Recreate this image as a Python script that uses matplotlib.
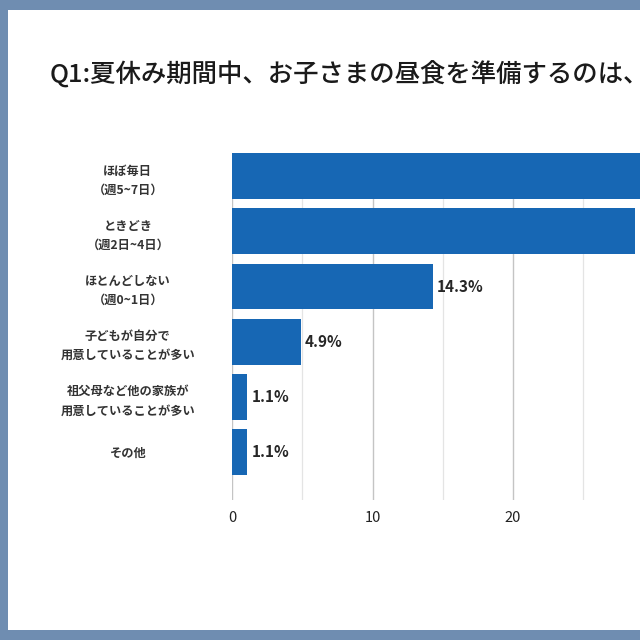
import matplotlib.pyplot as plt
from matplotlib.patches import Rectangle

plt.rcParams["font.family"] = ["Noto Sans CJK JP", "DejaVu Sans"]

TITLE = "Q1:夏休み期間中、お子さまの昼食を準備するのは、"

categories = [
    "ほぼ毎日\n（週5~7日）",
    "ときどき\n（週2日~4日）",
    "ほとんどしない\n（週0~1日）",
    "子どもが自分で\n用意していることが多い",
    "祖父母など他の家族が\n用意していることが多い",
    "その他",
]
values = [49.9, 28.7, 14.3, 4.9, 1.1, 1.1]
x_ticks = [0, 10, 20]
grid_minor = [5, 15, 25]

BAR_COLOR = "#1767b4"
BORDER_COLOR = "#6f8db1"


def draw_chart():
    fig = plt.figure(figsize=(6.4, 6.4), dpi=100)
    fig.patch.set_facecolor(BORDER_COLOR)

    # white panel inside the border (cropped on the right)
    fig.patches.append(Rectangle((8 / 640, 10 / 640), 1.0, 620 / 640,
                                 transform=fig.transFigure, facecolor="white",
                                 edgecolor="none", zorder=-5))

    fig.text(50 / 640, 1 - 75 / 640, TITLE, fontsize=18.3, fontweight="medium",
             color="#1a1a1a", ha="left", va="center")

    ax = fig.add_axes([232 / 640, 1 - 500 / 640, 421.5 / 640, 347 / 640])
    ax.set_facecolor("white")

    ys = list(range(len(categories)))
    ax.barh(ys, values, height=0.83, color=BAR_COLOR, zorder=2)

    for y, v in zip(ys, values):
        ax.text(v + 0.3, y, f"{v:.1f}%", va="center", ha="left",
                fontsize=11, fontweight="bold", color="#262626")

    ax.set_xlim(0, 30)
    ax.set_ylim(5.87, -0.42)

    ax.set_xticks(x_ticks)
    ax.set_xticks(grid_minor, minor=True)
    ax.grid(axis="x", which="major", color="#c4c4c4", linewidth=1.0, zorder=0)
    ax.grid(axis="x", which="minor", color="#e4e4e4", linewidth=0.9, zorder=0)
    ax.set_axisbelow(True)

    ax.set_yticks(ys)
    ax.set_yticklabels(categories, fontsize=8.8, fontweight="bold",
                       color="#333333", linespacing=1.6)
    for lab in ax.get_yticklabels():
        lab.set_ha("center")

    ax.tick_params(axis="y", length=0, pad=75)
    ax.tick_params(axis="x", which="both", length=0, pad=8,
                   labelsize=10.5, labelcolor="#222222")

    for s in ax.spines.values():
        s.set_visible(False)

    fig.savefig("out.png", dpi=100, facecolor=fig.get_facecolor())


if __name__ == "__main__":
    draw_chart()
